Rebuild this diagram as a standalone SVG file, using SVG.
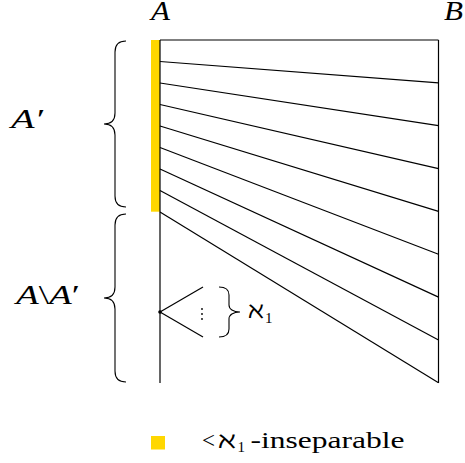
<svg xmlns="http://www.w3.org/2000/svg" width="465" height="463" viewBox="0 0 465 463">
<style>
.ln{stroke:#000;stroke-width:1.2;fill:none}
.br{stroke:#000;stroke-width:1.1;fill:none}
.t{fill:#000;font-family:'Liberation Serif','DejaVu Serif',serif}
.h{fill:#000;font-family:'DejaVu Serif',serif}
.i{font-style:italic}
</style>
<rect width="465" height="463" fill="#fff"/>
<g id="setA">
<rect x="151" y="40" width="9" height="171.7" fill="#FFD700"/>
<line class="ln" x1="160" y1="40" x2="160" y2="383"/>
<text class="t i" x="151" y="20" font-size="27" textLength="19" lengthAdjust="spacingAndGlyphs">A</text>
</g>
<g id="setB">
<line class="ln" x1="438.5" y1="40" x2="438.5" y2="383"/>
<text class="t i" x="444" y="20" font-size="27" textLength="19" lengthAdjust="spacingAndGlyphs">B</text>
</g>
<g id="connectors">
<line class="ln" x1="160" y1="40" x2="438.5" y2="40"/>
<line class="ln" x1="160" y1="61.5" x2="438.5" y2="82.9"/>
<line class="ln" x1="160" y1="83" x2="438.5" y2="125.7"/>
<line class="ln" x1="160" y1="104.5" x2="438.5" y2="168.6"/>
<line class="ln" x1="160" y1="126" x2="438.5" y2="211.4"/>
<line class="ln" x1="160" y1="147.5" x2="438.5" y2="254.3"/>
<line class="ln" x1="160" y1="169" x2="438.5" y2="297.1"/>
<line class="ln" x1="160" y1="190.5" x2="438.5" y2="340"/>
<line class="ln" x1="160" y1="212" x2="438.5" y2="382.8"/>
<line class="ln" x1="160" y1="312" x2="203" y2="287"/>
<line class="ln" x1="160" y1="312" x2="203" y2="337"/>
<circle cx="160" cy="312" r="1.8" fill="#000"/>
<circle cx="202" cy="309" r="0.9" fill="#000"/>
<circle cx="202" cy="314" r="0.9" fill="#000"/>
<circle cx="202" cy="319" r="0.9" fill="#000"/>
</g>
<g id="brace-Aprime">
<path class="br" d="M126,41 C118,41 115,45 115,52 L115,113 C115,120 111,124 104,124 C111,124 115,128 115,135 L115,196 C115,203 118,207 126,207"/>
<text class="t i" x="11" y="128" font-size="27" textLength="32" lengthAdjust="spacingAndGlyphs">A′</text>
</g>
<g id="brace-AminusAprime">
<path class="br" d="M126,214 C118,214 115,218 115,225 L115,287 C115,294 111,298 104,298 C111,298 115,302 115,309 L115,371 C115,378 118,382 126,382"/>
<text class="t" x="16" y="304" font-size="27" textLength="64" lengthAdjust="spacingAndGlyphs"><tspan class="i">A</tspan>\<tspan class="i">A</tspan>′</text>
</g>
<g id="brace-aleph1">
<path class="br" d="M219,287 C226,287 229,290 229,295 L229,305 C229,309 233,312 240,312 C233,312 229,315 229,319 L229,329 C229,334 226,337 219,337"/>
<text class="h" x="248" y="318" font-size="23" textLength="16" lengthAdjust="spacingAndGlyphs">ℵ</text>
<text class="t" x="265" y="322.7" font-size="15">1</text>
</g>
<g id="legend">
<rect x="151" y="436" width="14" height="13.5" fill="#FFD700"/>
<text class="t" x="202" y="448" font-size="23">&lt;</text>
<text class="h" x="218" y="448" font-size="23" textLength="18" lengthAdjust="spacingAndGlyphs">ℵ</text>
<text class="t" x="237.5" y="452" font-size="15">1</text>
<text class="t" x="250.5" y="448" font-size="24" textLength="154" lengthAdjust="spacingAndGlyphs">-inseparable</text>
</g>
</svg>
